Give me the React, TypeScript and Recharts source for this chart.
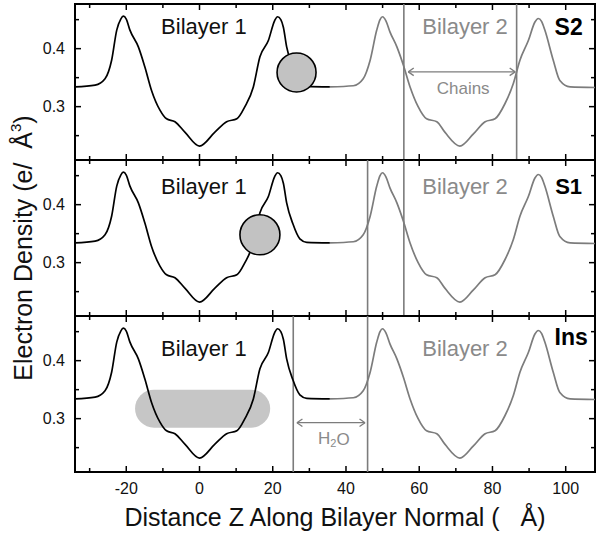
import React from 'react';
import { LineChart, Line, XAxis, YAxis, ReferenceLine, ReferenceDot, ReferenceArea, Label } from 'recharts';

const FONT = '"Liberation Sans", Arial, Helvetica, sans-serif';
const GRAY = '#7c7c7c';
const TEXT_GRAY = '#8a8a8a';

// bilayer 1 profile (black), Z in Å, electron density in e/Å^3
const zBilayer1 = [-34, -28.5, -25.8, -24, -22.6, -21.5, -20.8, -20, -19, -16.7, -14.9, -13.1, -10.8, -9, -6.7, -4, 0, 4.2, 7.4, 10.2, 12.4, 14.7, 16.5, 18.8, 20.5, 21.3, 22.2, 22.9, 23.8, 25.5, 27.4, 29.3, 35.6];
const rhoBilayer1 = [0.334, 0.337, 0.348, 0.38, 0.432, 0.451, 0.456, 0.451, 0.432, 0.403, 0.368, 0.328, 0.294, 0.279, 0.274, 0.256, 0.232, 0.256, 0.274, 0.279, 0.3, 0.334, 0.386, 0.414, 0.448, 0.455, 0.45, 0.437, 0.403, 0.367, 0.341, 0.335, 0.334];

// bilayer 2 profile (gray)
const zBilayer2 = [35.6, 42, 44.7, 46.6, 48.4, 49.3, 50, 50.9, 52, 53.9, 55.7, 57.5, 59.7, 62, 64.8, 67, 71.1, 74.8, 78, 80.7, 83.4, 85.7, 87.5, 89.8, 91.6, 92.5, 93.4, 94.3, 96.6, 98.4, 101.2, 108];
const rhoBilayer2 = [0.334, 0.336, 0.348, 0.38, 0.432, 0.45, 0.455, 0.448, 0.429, 0.403, 0.371, 0.334, 0.3, 0.279, 0.274, 0.256, 0.232, 0.253, 0.274, 0.279, 0.305, 0.34, 0.38, 0.414, 0.446, 0.452, 0.447, 0.432, 0.38, 0.345, 0.334, 0.333];

const panelNames = ['S2', 'S1', 'Ins'];
const dividerZ = [[55.8, 86.6], [45.9, 55.8], [25.6, 45.9]];
const bilayerLabelRho = [0.438, 0.431, 0.421];
const nameRho = [0.438, 0.431, 0.44];

const X_DOMAIN: [number, number] = [-34, 108];
const Y_DOMAIN: [number, number] = [0.208, 0.477];
const X_TICKS = [-30, -20, -10, 0, 10, 20, 30, 40, 50, 60, 70, 80, 90, 100];
const Y_TICKS = [0.25, 0.3, 0.35, 0.4, 0.45];

const PLOT_TOP = [4, 160, 316];
const PLOT_H = 156;

const bilayer1 = zBilayer1.map((z, i) => ({ z, rho: rhoBilayer1[i] }));
const bilayer2 = zBilayer2.map((z, i) => ({ z, rho: rhoBilayer2[i] }));

// tick lengths in data units (about 6px / 4px)
const TX_MAJOR = 1.64;
const TX_MINOR = 1.1;
const TY_MAJOR = 0.0103;
const TY_MINOR = 0.0069;

const isMajorX = (v: number) => v % 20 === 0;
const isMajorY = (v: number) => Math.round(v * 100) % 10 === 0;

function BottomLabel({ x, y, payload }: any) {
  if (!isMajorX(payload.value)) return <g />;
  return (
    <text x={x} y={y + 22} textAnchor="middle" fontSize={16} fontFamily={FONT} fill="#111">
      {payload.value}
    </text>
  );
}

function LeftLabel({ x, y, payload }: any) {
  if (!isMajorY(payload.value)) return <g />;
  return (
    <text x={x - 10} y={y} textAnchor="end" dominantBaseline="central" fontSize={16} fontFamily={FONT} fill="#111">
      {payload.value}
    </text>
  );
}

const note = (body: React.ReactNode, fill: string, size: number, weight: string = 'normal') =>
  (props: any) => {
    const vb = props.viewBox;
    return (
      <text x={vb.x} y={vb.y} textAnchor="middle" dominantBaseline="central" fill={fill}
        fontSize={size} fontWeight={weight} fontFamily={FONT}>
        {body}
      </text>
    );
  };

const XTitle = (props: any) => {
  const vb = props.viewBox;
  return (
    <text x={vb.x + vb.width / 2} y={vb.y + 54} textAnchor="middle" fontSize={25} fontFamily={FONT} fill="#111">
      Distance Z Along Bilayer Normal (&nbsp;&nbsp;&nbsp;Å)
    </text>
  );
};

function arrow(key: string, z1: number, z2: number, rho: number) {
  const dz = 1.5;
  const dr = 0.0065;
  const s = { stroke: GRAY, strokeWidth: 1.3 };
  return [
    <ReferenceLine key={key + 'm'} segment={[{ x: z1, y: rho }, { x: z2, y: rho }]} {...s} />,
    <ReferenceLine key={key + 'a'} segment={[{ x: z1, y: rho }, { x: z1 + dz, y: rho + dr }]} {...s} />,
    <ReferenceLine key={key + 'b'} segment={[{ x: z1, y: rho }, { x: z1 + dz, y: rho - dr }]} {...s} />,
    <ReferenceLine key={key + 'c'} segment={[{ x: z2, y: rho }, { x: z2 - dz, y: rho + dr }]} {...s} />,
    <ReferenceLine key={key + 'd'} segment={[{ x: z2, y: rho }, { x: z2 - dz, y: rho - dr }]} {...s} />,
  ];
}

// frame ticks, pointing inward on all four sides
function frameTicks() {
  const [x0, x1] = X_DOMAIN;
  const [y0, y1] = Y_DOMAIN;
  const s = { stroke: '#000', strokeWidth: 1.5, ifOverflow: 'visible' as const };
  const out: React.ReactNode[] = [];
  X_TICKS.forEach((v) => {
    const len = isMajorY(0) && isMajorX(v) ? TY_MAJOR : TY_MINOR;
    out.push(<ReferenceLine key={'xb' + v} segment={[{ x: v, y: y0 }, { x: v, y: y0 + len }]} {...s} />);
    out.push(<ReferenceLine key={'xt' + v} segment={[{ x: v, y: y1 }, { x: v, y: y1 - len }]} {...s} />);
  });
  Y_TICKS.forEach((v) => {
    const len = isMajorY(v) ? TX_MAJOR : TX_MINOR;
    out.push(<ReferenceLine key={'yl' + v} segment={[{ x: x0, y: v }, { x: x0 + len, y: v }]} {...s} />);
    out.push(<ReferenceLine key={'yr' + v} segment={[{ x: x1, y: v }, { x: x1 - len, y: v }]} {...s} />);
  });
  return out;
}

function Panel({ index }: { index: number }) {
  const last = index === 2;
  const axisH = last ? 60 : 0;
  return (
    <div style={{ position: 'absolute', left: 0, top: PLOT_TOP[index] - 3 }}>
      <LineChart width={602} height={PLOT_H + 6 + axisH} margin={{ top: 3, right: 7, bottom: 3, left: 0 }}>
        <XAxis type="number" dataKey="z" domain={X_DOMAIN} allowDataOverflow ticks={X_TICKS} interval={0}
          hide={!last} height={last ? 60 : 30} tickSize={0} tickMargin={0} tickLine={false} axisLine={false}
          tick={<BottomLabel />}>
          {last && <Label content={XTitle} />}
        </XAxis>
        <YAxis type="number" domain={Y_DOMAIN} allowDataOverflow ticks={Y_TICKS} interval={0} width={75}
          tickSize={0} tickMargin={0} tickLine={false} axisLine={false} tick={<LeftLabel />} />

        {dividerZ[index].map((z) => (
          <ReferenceLine key={'v' + z} x={z} stroke={GRAY} strokeWidth={1.6} />
        ))}

        <Line data={bilayer1} dataKey="rho" type="monotone" stroke="#000" strokeWidth={1.7} dot={false} isAnimationActive={false} />
        <Line data={bilayer2} dataKey="rho" type="monotone" stroke={GRAY} strokeWidth={1.7} dot={false} isAnimationActive={false} />

        {index === 0 && (
          <ReferenceDot x={26.5} y={0.359} r={19.5} fill="#c2c2c2" stroke="#000" strokeWidth={1.6} />
        )}
        {index === 1 && (
          <ReferenceDot x={16.5} y={0.348} r={20} fill="#c2c2c2" stroke="#000" strokeWidth={1.6} />
        )}
        {index === 2 && (
          <ReferenceArea x1={-17.6} x2={19.3} y1={0.2845} y2={0.35}
            shape={(p: any) => <rect x={p.x} y={p.y} width={p.width} height={p.height} rx={p.height / 2} fill="#c6c6c6" />} />
        )}

        {index === 0 && arrow('chains', 57, 86.2, 0.36)}
        {index === 2 && arrow('water', 26.6, 45.2, 0.293)}

        <ReferenceArea x1={X_DOMAIN[0]} x2={X_DOMAIN[1]} y1={Y_DOMAIN[0]} y2={Y_DOMAIN[1]} ifOverflow="visible"
          fill="none" fillOpacity={0} stroke="#000" strokeWidth={2} />
        {frameTicks()}

        <ReferenceDot x={1.2} y={bilayerLabelRho[index]} r={0} label={{ content: note('Bilayer 1', '#111', 22) }} />
        <ReferenceDot x={72.5} y={bilayerLabelRho[index]} r={0} label={{ content: note('Bilayer 2', TEXT_GRAY, 22) }} />
        <ReferenceDot x={index === 2 ? 101.5 : 100.8} y={nameRho[index]} r={0}
          label={{ content: note(panelNames[index], '#000', index === 1 ? 22 : 23, 'bold') }} />
        {index === 0 && (
          <ReferenceDot x={72} y={0.331} r={0} label={{ content: note('Chains', TEXT_GRAY, 17) }} />
        )}
        {index === 2 && (
          <ReferenceDot x={36.7} y={0.2655} r={0}
            label={{ content: note(<>H<tspan fontSize={11} dy={4}>2</tspan><tspan dy={-4}>O</tspan></>, TEXT_GRAY, 17) }} />
        )}
      </LineChart>
    </div>
  );
}

export default function App() {
  return (
    <div style={{ position: 'absolute', left: 0, top: 0, width: 602, height: 538, background: '#fff', fontFamily: FONT }}>
      {[0, 1, 2].map((i) => (
        <Panel key={i} index={i} />
      ))}
      <svg width={60} height={538} style={{ position: 'absolute', left: 0, top: 0 }}>
        <text transform="translate(32,248) rotate(-90)" textAnchor="middle" fontSize={25} fontFamily={FONT} fill="#111">
          Electron Density (e/&nbsp;&nbsp;Å<tspan fontSize={15} dy={-11}>3</tspan><tspan dy={11}>)</tspan>
        </text>
      </svg>
    </div>
  );
}
